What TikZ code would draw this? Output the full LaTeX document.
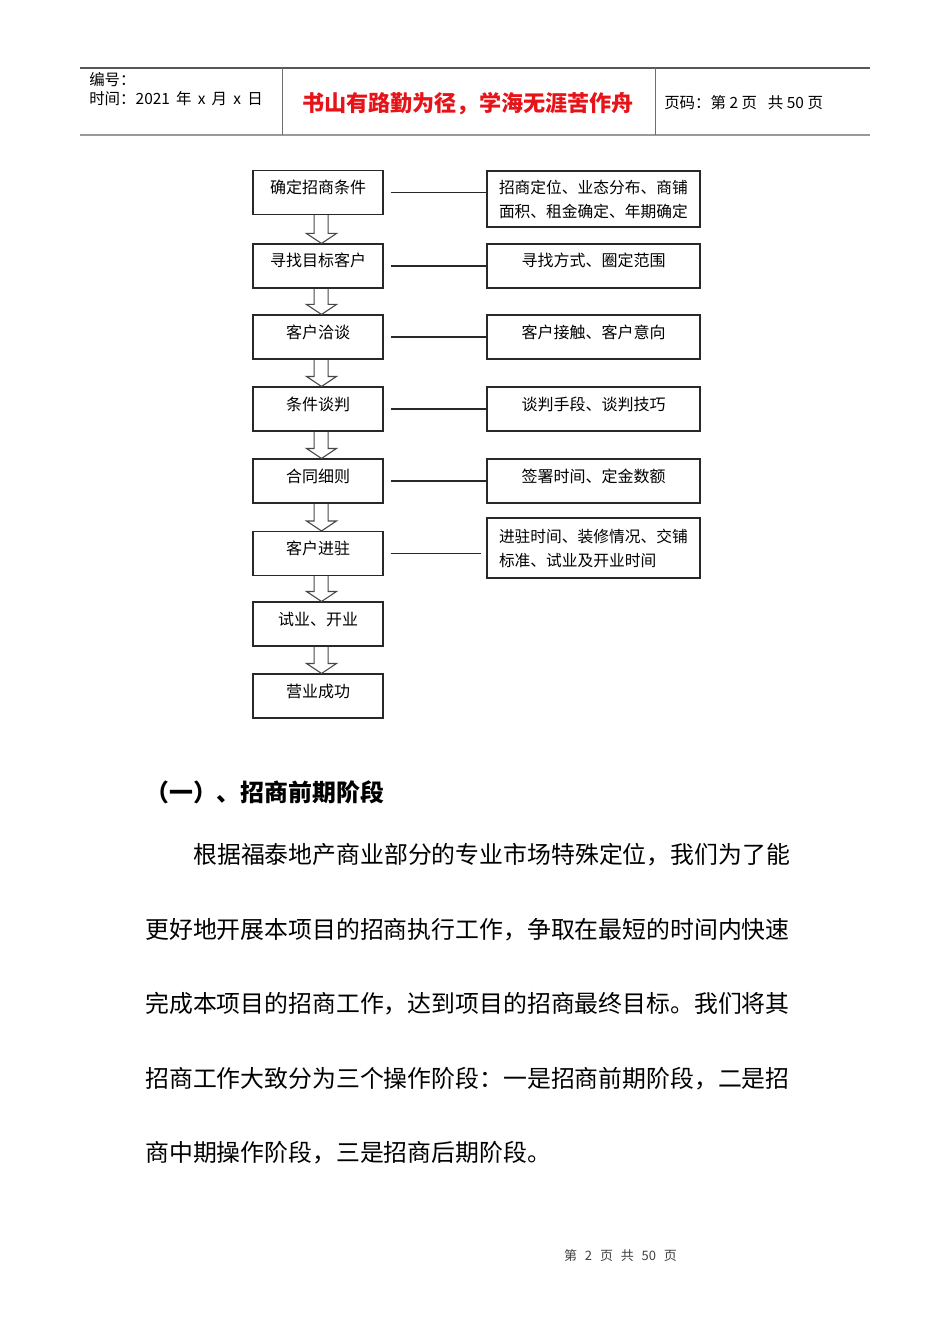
\documentclass[tikz,border=0pt]{standalone}
\usepackage{fontspec}
\setmainfont{Noto Sans CJK SC}
\usepackage{xcolor}
\usepackage{tikz}
\usetikzlibrary{calc}

\definecolor{mottored}{RGB}{230,20,25}
\definecolor{boxline}{RGB}{40,40,40}
\definecolor{ruleline}{RGB}{110,110,110}

\tikzset{
	stage/.style={draw=boxline, line width=0.8pt, inner sep=0pt, minimum width=97.5pt, minimum height=33pt, text height=8pt, text depth=6.5pt, font=\fontsize{12}{14}\selectfont},
	detail/.style={stage, minimum width=159.75pt},
	detailtwo/.style={draw=boxline, line width=0.8pt, inner xsep=9pt, inner ysep=0pt, text width=141.75pt, align=left, minimum height=42pt, font=\fontsize{11.8}{18}\selectfont},
	link/.style={draw=boxline, line width=0.8pt, shorten <=5.25pt},
	stepdown/.style={draw=boxline!85, line width=0.8pt},
	headtext/.style={anchor=west, inner sep=0pt, font=\fontsize{11.6}{13}\selectfont},
	body/.style={anchor=west, inner sep=0pt, font=\fontsize{17.9}{20}\selectfont},
}

\begin{document}
\begin{tikzpicture}[x=0.75pt, y=-0.75pt]
	\useasboundingbox (0,0) rectangle (950,1344);
	% header table
	\draw [line width=0.8pt, draw=ruleline!80!black] (80,68) -- (870,68);
	\draw [line width=1.6pt, draw=ruleline!70] (80,135) -- (870,135);
	\draw [line width=0.7pt, draw=ruleline] (282,68) -- (282,135);
	\draw [line width=0.7pt, draw=ruleline] (655,68) -- (655,135);
	\node [headtext] (serial) at (89,80) {编号：};
	\node [headtext] (date) at (89,99) {时间：2021\hspace{0.4em}年\hspace{0.4em}x\hspace{0.4em}月\hspace{0.4em}x\hspace{0.4em}日};
	\node [inner sep=0pt, text=mottored, font=\bfseries\fontsize{16.6}{18}\selectfont] (motto) at (468,104) {书山有路勤为径，学海无涯苦作舟};
	\node [headtext] (pageno) at (664,103) {页码：第 2 页\hspace{0.7em}共 50 页};

	% flow chart
	\node [stage] (c1) at (318,192.5) {确定招商条件};
	\node [stage] (c2) at (318,266) {寻找目标客户};
	\node [stage] (c3) at (318,337) {客户洽谈};
	\node [stage] (c4) at (318,409) {条件谈判};
	\node [stage] (c5) at (318,481) {合同细则};
	\node [stage] (c6) at (318,553.5) {客户进驻};
	\node [stage] (c7) at (318,624) {试业、开业};
	\node [stage] (c8) at (318,696) {营业成功};

	\node [detailtwo] (d1) at (593.5,199) {招商定位、业态分布、商铺\\面积、租金确定、年期确定};
	\node [detail] (d2) at (593.5,266) {寻找方式、圈定范围};
	\node [detail] (d3) at (593.5,337) {客户接触、客户意向};
	\node [detail] (d4) at (593.5,409) {谈判手段、谈判技巧};
	\node [detail] (d5) at (593.5,481) {签署时间、定金数额};
	\node [detailtwo, minimum height=45pt] (d6) at (593.5,548) {进驻时间、装修情况、交铺\\标准、试业及开业时间};

	\foreach \a/\b in {c1/d1, c2/d2, c3/d3, c4/d4, c5/d5}
		\draw [link] (\a.east) -- (\a.east -| \b.west);
	\draw [link, shorten >=3.75pt] (c6.east) -- (c6.east -| d6.west);

	\foreach \a/\b in {c1/c2, c2/c3, c3/c4, c4/c5, c5/c6, c6/c7, c7/c8}
		\draw [stepdown] ($(\a.south)+(-3.8,0)$) -- ($(\b.north)+(-3.8,-10)$) -- ($(\b.north)+(-11.5,-10)$)
			-- ($(\b.north)+(3.5,0)$) -- ($(\b.north)+(18.5,-10)$) -- ($(\b.north)+(10.2,-10)$) -- ($(\a.south)+(10.2,0)$);

	% text below
	\node [body, font=\bfseries\fontsize{17.9}{20}\selectfont] (heading) at (145,792) {（一）、招商前期阶段};
	\node [body] (line1) at (193,855) {根据福泰地产商业部分的专业市场特殊定位，我们为了能};
	\node [body] (line2) at (145,930) {更好地开展本项目的招商执行工作，争取在最短的时间内快速};
	\node [body] (line3) at (145,1004) {完成本项目的招商工作，达到项目的招商最终目标。我们将其};
	\node [body] (line4) at (145,1079) {招商工作大致分为三个操作阶段：一是招商前期阶段，二是招};
	\node [body] (line5) at (145,1153) {商中期操作阶段，三是招商后期阶段。};

	\node [inner sep=0pt, text=black!75, font=\fontsize{9.75}{11}\selectfont] (footer) at (620.5,1256) {第\hspace{0.6em}2\hspace{0.6em}页\hspace{0.6em}共\hspace{0.6em}50\hspace{0.6em}页};
\end{tikzpicture}
\end{document}
